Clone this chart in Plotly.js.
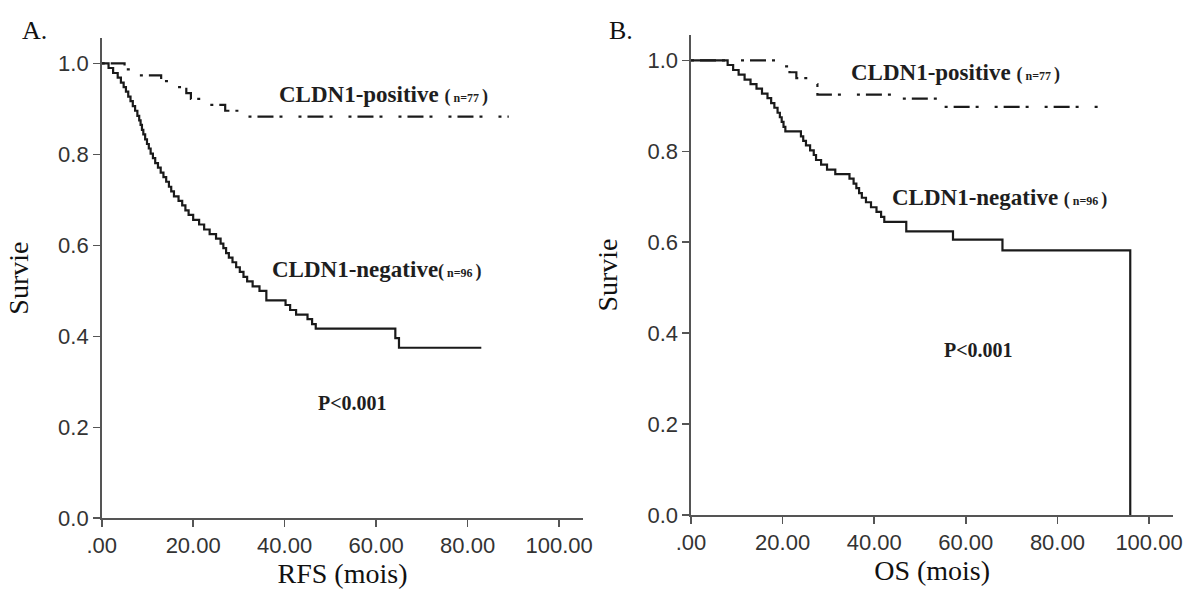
<!DOCTYPE html>
<html>
<head>
<meta charset="utf-8">
<script src="https://cdn.plot.ly/plotly-3.0.1.min.js"></script>
<style>
html,body{margin:0;padding:0;background:#fff;}
#chart{width:1189px;height:595px;}
</style>
</head>
<body>
<div id="chart"></div>
<script>
// ---- Panel A : RFS ----
const rfsNegTime = [0,1.5,2.5,3.5,4.2,4.8,5.3,5.8,6.3,6.8,7.3,7.8,8.2,8.5,8.8,9.1,9.5,9.9,10.3,10.7,11.2,11.7,12.3,12.9,13.5,14.1,14.7,15.2,15.8,16.8,17.6,18.3,19.0,20.0,21.3,22.4,23.6,25.0,26.0,26.6,27.2,27.8,28.6,29.4,30.2,31.0,31.8,33.0,34.5,36.0,40.2,41.2,42.5,45.0,46.0,46.8,64.2,65.0,83.0];
const rfsNegSurv = [1.0,0.99,0.979,0.969,0.958,0.948,0.938,0.927,0.917,0.906,0.896,0.885,0.875,0.865,0.854,0.844,0.833,0.823,0.813,0.802,0.792,0.781,0.771,0.76,0.75,0.74,0.729,0.719,0.708,0.698,0.688,0.677,0.667,0.656,0.646,0.635,0.625,0.615,0.604,0.594,0.583,0.573,0.563,0.552,0.542,0.531,0.521,0.51,0.5,0.479,0.469,0.458,0.448,0.438,0.427,0.417,0.396,0.375,0.375];
const rfsPosTime = [0,5,7,13,15.5,18.5,19.5,22,27,32,89];
const rfsPosSurv = [1.0,0.987,0.974,0.961,0.948,0.935,0.922,0.909,0.896,0.883,0.883];

// ---- Panel B : OS ----
const osNegTime = [0,8.0,9.2,10.4,11.7,13.0,14.3,15.5,16.7,17.5,18.2,18.9,19.4,19.8,20.2,20.6,24.0,24.5,25.1,26.0,26.8,27.3,28.4,29.7,31.5,34.6,35.5,36.1,36.7,37.3,38.2,39.3,40.5,41.5,42.2,47.0,57.2,68.0,95.9];
const osNegSurv = [1.0,0.99,0.979,0.969,0.958,0.948,0.938,0.927,0.917,0.906,0.896,0.885,0.875,0.865,0.854,0.844,0.833,0.823,0.813,0.802,0.792,0.781,0.771,0.76,0.75,0.74,0.729,0.719,0.708,0.698,0.688,0.677,0.667,0.656,0.645,0.624,0.606,0.582,0.0];
const osPosTime = [0,20.5,21.5,23.0,26.5,27.6,44.0,55.2,89.0];
const osPosSurv = [1.0,0.987,0.974,0.961,0.948,0.925,0.916,0.898,0.898];

// ---- ticks ----
const xTickVals = [0,20,40,60,80,100];
const xTickText = ['.00','20.00','40.00','60.00','80.00','100.00'];
const yTickVals = [0,0.2,0.4,0.6,0.8,1.0];
const yTickText = ['0.0','0.2','0.4','0.6','0.8','1.0'];

const W = 1189, H = 595;
const px = v => v / W;
const py = v => 1 - v / H;

const solid = {color:'#1a1a1a', width:2.2, shape:'hv'};
const dashdot = {color:'#1a1a1a', width:2.2, shape:'hv', dash:'3px,6px,16px,6px,3px,16px'};

const traces = [
  {x: rfsPosTime, y: rfsPosSurv, xaxis:'x', yaxis:'y', mode:'lines', line: dashdot, name:'CLDN1-positive', showlegend:false, hoverinfo:'skip'},
  {x: rfsNegTime, y: rfsNegSurv, xaxis:'x', yaxis:'y', mode:'lines', line: solid, name:'CLDN1-negative', showlegend:false, hoverinfo:'skip'},
  {x: osPosTime, y: osPosSurv, xaxis:'x2', yaxis:'y2', mode:'lines', line: dashdot, name:'CLDN1-positive', showlegend:false, hoverinfo:'skip'},
  {x: osNegTime, y: osNegSurv, xaxis:'x2', yaxis:'y2', mode:'lines', line: solid, name:'CLDN1-negative', showlegend:false, hoverinfo:'skip'}
];

const tickFont = {family:'"Liberation Sans", Arial, sans-serif', size:22, color:'#333'};
const titleFont = {family:'"Liberation Serif", "Times New Roman", serif', size:28, color:'#111'};

function xAxis(domain, title){
  return {domain: domain, range:[0,105.3], showgrid:false, zeroline:false, showline:true,
    linecolor:'#555', linewidth:1.6, ticks:'outside', ticklen:7, tickwidth:1.6, tickcolor:'#555',
    tickmode:'array', tickvals:xTickVals, ticktext:xTickText, tickfont:tickFont,
    title:{text:title, font:titleFont, standoff:6}, fixedrange:true};
}
function yAxis(domain, anchor){
  return {domain: domain, range:[0,1.056], showgrid:false, zeroline:false, showline:true,
    linecolor:'#555', linewidth:1.6, ticks:'outside', ticklen:7, tickwidth:1.6, tickcolor:'#555',
    tickmode:'array', tickvals:yTickVals, ticktext:yTickText, tickfont:tickFont,
    title:{text:'Survie', font:titleFont, standoff:21}, anchor: anchor, fixedrange:true};
}

const annFont = {family:'"Liberation Serif", "Times New Roman", serif', size:23, color:'#1e1e1e'};
function lab(text, x, y, size){
  return {xref:'paper', yref:'paper', x:px(x), y:py(y), xanchor:'left', yanchor:'middle',
    text:text, showarrow:false, font: Object.assign({}, annFont, size ? {size:size} : {})};
}
const nPos = '<span style="font-size:18px">(</span><span style="font-size:12px"> n=77 </span><span style="font-size:18px">)</span>';
const nNeg = '<span style="font-size:18px">(</span><span style="font-size:12px"> n=96 </span><span style="font-size:18px">)</span>';

const layout = {
  width: W, height: H,
  margin:{l:0,r:0,t:0,b:0},
  paper_bgcolor:'#fff', plot_bgcolor:'#fff',
  showlegend:false,
  xaxis: Object.assign(xAxis([px(101.7), px(583.3)], 'RFS (mois)'), {anchor:'y'}),
  yaxis: yAxis([1 - 518.3/H, 1 - 38/H], 'x'),
  xaxis2: Object.assign(xAxis([px(691), px(1173.3)], 'OS (mois)'), {anchor:'y2'}),
  yaxis2: yAxis([1 - 515/H, 1 - 35/H], 'x2'),
  annotations: [
    lab('<b>CLDN1-positive</b> <b>' + nPos + '</b>', 277, 95),
    lab('<b>CLDN1-negative</b><b>' + nNeg + '</b>', 270, 270),
    lab('<b>P&lt;0.001</b>', 316, 403, 20),
    {xref:'paper', yref:'paper', x:px(20), y:py(30), xanchor:'left', yanchor:'middle', text:'A.', showarrow:false,
      font:{family:'"Liberation Serif", "Times New Roman", serif', size:26, color:'#111'}},
    lab('<b>CLDN1-positive</b> <b>' + nPos + '</b>', 849, 72),
    lab('<b>CLDN1-negative</b> <b>' + nNeg + '</b>', 890, 198),
    lab('<b>P&lt;0.001</b>', 942, 350, 20),
    {xref:'paper', yref:'paper', x:px(607), y:py(30), xanchor:'left', yanchor:'middle', text:'B.', showarrow:false,
      font:{family:'"Liberation Serif", "Times New Roman", serif', size:26, color:'#111'}}
  ]
};

Plotly.newPlot('chart', traces, layout, {displayModeBar:false, staticPlot:true});
</script>
</body>
</html>
